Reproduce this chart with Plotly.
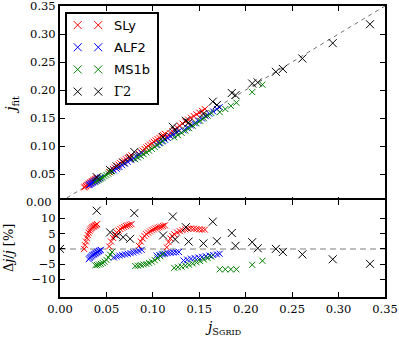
import plotly.graph_objects as go

# ---------------- data ----------------
# x = j_SGRID, dj = Delta j / j in percent ; j_fit = j_SGRID * (1 + dj/100)
sly_x = [0.026, 0.027, 0.028, 0.029, 0.030, 0.031, 0.032, 0.033, 0.034, 0.035, 0.036, 0.037, 0.038, 0.039, 0.040,
         0.053, 0.055, 0.057, 0.059, 0.061, 0.063, 0.065, 0.067, 0.069, 0.071, 0.073, 0.075, 0.077,
         0.085, 0.087, 0.089, 0.091, 0.093, 0.095, 0.097, 0.099, 0.101, 0.103, 0.105, 0.107, 0.109, 0.111, 0.113,
         0.115, 0.117, 0.119, 0.121, 0.123, 0.126, 0.129, 0.132, 0.135, 0.138, 0.141, 0.144, 0.147, 0.150, 0.153, 0.156]
sly_dj = [0.0, 1.2, 2.4, 3.5, 4.5, 5.3, 5.9, 6.4, 6.8, 7.1, 7.3, 7.5, 7.7, 7.9, 8.1,
          0.8, 2.4, 3.6, 4.6, 5.4, 6.0, 6.5, 6.9, 7.2, 7.5, 7.7, 7.9, 8.1,
          1.0, 2.4, 3.4, 4.2, 4.8, 5.3, 5.7, 6.1, 6.4, 6.7, 6.9, 7.1, 7.3, 7.5, 7.7,
          0.5, 2.2, 3.4, 4.2, 4.8, 5.4, 5.8, 6.1, 6.4, 6.6, 6.7, 6.6, 6.5, 6.4, 6.3, 6.3]

alf2_x = [0.031, 0.032, 0.033, 0.034, 0.035, 0.036, 0.037, 0.038, 0.039, 0.040, 0.041, 0.042, 0.043, 0.044,
          0.058, 0.061, 0.064, 0.067, 0.070, 0.073, 0.076, 0.079, 0.082, 0.085, 0.088,
          0.104, 0.107, 0.110, 0.113, 0.116, 0.119, 0.122, 0.125, 0.128,
          0.133, 0.137, 0.141, 0.145, 0.149, 0.153, 0.157, 0.161, 0.165, 0.169, 0.172]
alf2_dj = [-3.4, -3.0, -2.7, -2.4, -2.1, -1.9, -1.7, -1.5, -1.3, -1.1, -0.9, -0.7, -0.5, -0.3,
           -2.8, -2.5, -2.2, -2.0, -1.8, -1.6, -1.4, -1.2, -0.9, -0.6, -0.3,
           -2.2, -2.0, -1.8, -1.6, -1.4, -1.3, -1.2, -1.1, -1.0,
           -3.8, -3.5, -3.2, -3.0, -2.8, -2.6, -2.4, -2.2, -2.0, -1.8, -1.6]

ms1b_x = [0.038, 0.040, 0.042, 0.044, 0.046, 0.048, 0.050, 0.052, 0.054, 0.056,
          0.081, 0.084, 0.087, 0.090, 0.093, 0.096, 0.099, 0.102, 0.105, 0.108, 0.111,
          0.123, 0.127, 0.131, 0.135, 0.139, 0.143, 0.147, 0.151, 0.155, 0.159, 0.163,
          0.172, 0.178, 0.184, 0.190, 0.207, 0.218]
ms1b_dj = [-5.4, -5.3, -5.1, -4.9, -4.6, -4.2, -3.6, -2.8, -1.9, -1.0,
           -5.6, -5.5, -5.3, -5.1, -4.9, -4.6, -4.2, -3.7, -3.1, -2.4, -1.6,
           -6.2, -6.0, -5.8, -5.5, -5.2, -4.8, -4.4, -4.0, -3.5, -3.0, -2.5,
           -6.7, -6.7, -6.7, -6.7, -5.2, -3.9]

g2_x = [0.0, 0.0395, 0.054, 0.061, 0.068, 0.0755, 0.080, 0.111, 0.1215, 0.124, 0.1355, 0.1385,
        0.1545, 0.1645, 0.169, 0.185, 0.189, 0.207, 0.213, 0.2325, 0.240, 0.261, 0.2937, 0.3338]
g2_dj = [0.0, 12.5, 5.4, 4.4, 3.8, 3.3, 11.7, 4.4, 10.6, 3.1, 7.1, 2.4,
         1.8, 8.9, 2.5, 5.2, 1.0, 2.2, 0.2, 0.0, -1.0, -1.8, -3.4, -4.9]

series_names = ["SLy", "ALF2", "MS1b", "Γ2"]
series_colors = ["#ff0000", "#0000ff", "#008000", "#000000"]
series_x = [sly_x, alf2_x, ms1b_x, g2_x]
series_dj = [sly_dj, alf2_dj, ms1b_dj, g2_dj]
series_size = [6, 6, 6, 8]

x_ticks = [0.00, 0.05, 0.10, 0.15, 0.20, 0.25, 0.30, 0.35]
y_ticks_top = [0.00, 0.05, 0.10, 0.15, 0.20, 0.25, 0.30, 0.35]
y_ticks_bottom = [-10, -5, 0, 5, 10]

X_RANGE = [0.0, 0.35]
Y_RANGE_TOP = [0.0, 0.35]
Y_RANGE_BOTTOM = [-15.75, 16.0]

SERIF = "DejaVu Serif"
SANS = "DejaVu Sans"
TICK_SIZE = 11.5

fig = go.Figure()

# reference lines
fig.add_trace(go.Scatter(x=X_RANGE, y=X_RANGE, mode="lines", xaxis="x", yaxis="y",
                         line=dict(color="#707070", width=1, dash="4px,4px"),
                         showlegend=False, hoverinfo="skip"))
fig.add_trace(go.Scatter(x=X_RANGE, y=[0, 0], mode="lines", xaxis="x2", yaxis="y2",
                         line=dict(color="#a8a8a8", width=1.5, dash="6px,4px"),
                         showlegend=False, hoverinfo="skip"))

for name, xs, ds, col, sz in zip(series_names, series_x, series_dj, series_colors, series_size):
    fit = [x * (1 + d / 100.0) for x, d in zip(xs, ds)]
    mk = dict(symbol="x-thin-open", size=sz, color=col, line=dict(color=col, width=1))
    fig.add_trace(go.Scatter(x=xs, y=fit, mode="markers", marker=mk, name=name,
                             xaxis="x", yaxis="y", showlegend=False))
    fig.add_trace(go.Scatter(x=xs, y=ds, mode="markers", marker=mk, name=name,
                             xaxis="x2", yaxis="y2", showlegend=False))

# custom legend (two markers per entry, matplotlib style)
leg_rows = [3.5, 2.5, 1.5, 0.5]
for name, col, ry in zip(series_names, series_colors, leg_rows):
    fig.add_trace(go.Scatter(x=[0.122, 0.35], y=[ry, ry], mode="markers",
                             marker=dict(symbol="x-thin-open", size=8, color=col,
                                         line=dict(color=col, width=1)),
                             xaxis="x3", yaxis="y3", showlegend=False, hoverinfo="skip"))

annotations = []
for name, ry in zip(series_names, leg_rows):
    annotations.append(dict(x=0.5, y=ry, xref="x3", yref="y3", text=name, showarrow=False,
                            xanchor="left", yanchor="middle",
                            font=dict(family=SERIF if name == "Γ2" else SANS, size=13, color="black")))

annotations += [
    # bottom tick label of the upper panel (plotly hides it at the shared corner)
    dict(x=-0.0175, y=y_ticks_top[0], xref="paper", yref="y", text="%.2f" % y_ticks_top[0],
         showarrow=False, xanchor="right", yanchor="middle",
         font=dict(family=SERIF, size=TICK_SIZE, color="black")),
    dict(x=-0.148, y=0.66, xref="paper", yref="paper",
         text="<i>j</i><sub>fit</sub>", showarrow=False, textangle=-90,
         xanchor="center", yanchor="middle", font=dict(family=SERIF, size=14, color="black")),
    dict(x=-0.16, y=0.168, xref="paper", yref="paper",
         text="Δ<i>j</i>/<i>j</i> [%]", showarrow=False, textangle=-90,
         xanchor="center", yanchor="middle", font=dict(family=SERIF, size=13, color="black")),
    dict(x=0.5, y=-0.108, xref="paper", yref="paper",
         text="<i>j</i><sub>S<span style='font-size:8px'>GRID</span></sub>", showarrow=False,
         xanchor="center", yanchor="middle", font=dict(family=SERIF, size=14, color="black")),
]

axis_common = dict(showline=True, linewidth=2, linecolor="black", mirror="allticks",
                   ticks="inside", ticklen=5, tickwidth=1.2, tickcolor="black",
                   showgrid=False, zeroline=False, automargin=False,
                   ticklabeloverflow="allow",
                   tickfont=dict(family=SERIF, size=TICK_SIZE, color="black"))

PLOT_H = 340 - 6 - 43
shift = 2.0 / PLOT_H  # so the two panels share one 2px border line

fig.update_layout(
    template="none",
    width=399, height=340,
    margin=dict(l=60, r=14, t=6, b=43, autoexpand=False),
    paper_bgcolor="white", plot_bgcolor="white",
    showlegend=False,
    xaxis=dict(axis_common, domain=[0, 1], range=X_RANGE, tickvals=x_ticks,
               showticklabels=False, anchor="y"),
    yaxis=dict(axis_common, domain=[1/3 - shift, 1], range=Y_RANGE_TOP, tickvals=y_ticks_top[1:],
               ticktext=["%.2f" % v for v in y_ticks_top[1:]], anchor="x"),
    xaxis2=dict(axis_common, domain=[0, 1], range=X_RANGE, tickvals=x_ticks,
                tickformat=".2f", anchor="y2"),
    yaxis2=dict(axis_common, domain=[0, 1/3], range=Y_RANGE_BOTTOM, tickvals=y_ticks_bottom,
                anchor="x2"),
    xaxis3=dict(domain=[0.0206, 0.298], range=[0, 1], anchor="y3", showline=True,
                linewidth=1.5, linecolor="black", mirror=True, ticks="", showticklabels=False,
                showgrid=False, zeroline=False, fixedrange=True, automargin=False),
    yaxis3=dict(domain=[0.6677, 0.9725], range=[0, 4], anchor="x3", showline=True,
                linewidth=1.5, linecolor="black", mirror=True, ticks="", showticklabels=False,
                showgrid=False, zeroline=False, fixedrange=True, automargin=False),
    annotations=annotations,
)

fig.write_html("out.html", config={"displayModeBar": False},
               post_script="document.body.style.margin='0';document.body.style.padding='0';")
